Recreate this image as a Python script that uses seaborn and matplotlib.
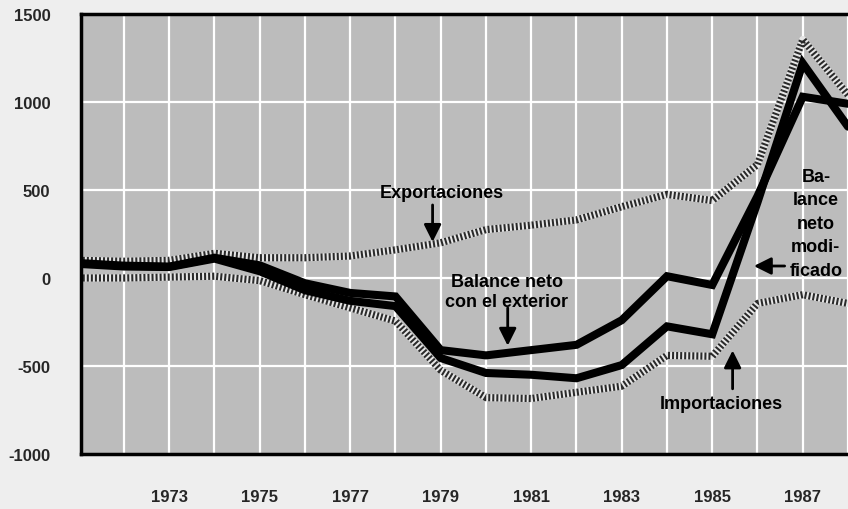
import numpy as np
import pandas as pd
import matplotlib
matplotlib.use("Agg")
import matplotlib.pyplot as plt
import seaborn as sns

# values (millions)
years = [1971, 1972, 1973, 1974, 1975, 1976, 1977, 1978, 1979,
         1980, 1981, 1982, 1983, 1984, 1985, 1986, 1987, 1988]
exportaciones = [100, 95, 100, 140, 115, 115, 125, 160, 200,
                 275, 300, 330, 405, 475, 440, 645, 1355, 1040]
importaciones = [0, 0, 5, 10, -15, -95, -170, -245, -525,
                 -680, -685, -650, -615, -440, -445, -145, -95, -145]
balance_exterior = [85, 70, 65, 115, 72, -30, -85, -105, -410,
                    -440, -410, -380, -240, 10, -40, 465, 1030, 990]
balance_modificado = [80, 65, 62, 110, 38, -70, -130, -160, -455,
                      -540, -550, -570, -495, -275, -320, 430, 1220, 860]

odd_years = [1973, 1975, 1977, 1979, 1981, 1983, 1985, 1987]
even_years = [1972, 1974, 1976, 1978, 1980, 1982, 1984, 1986]
y_ticks = [-1000, -500, 0, 500, 1000, 1500]

df = pd.DataFrame({
    "year": years,
    "exp": exportaciones,
    "imp": importaciones,
    "ext": balance_exterior,
    "mod": balance_modificado,
})

sns.set_style("white", {"axes.facecolor": "#bcbcbc"})
plt.rcParams["font.family"] = ["Liberation Sans", "DejaVu Sans"]

fig = plt.figure(figsize=(8.48, 5.10), dpi=100, facecolor="#eeeeee")
ax = fig.add_axes([0.0955, 0.108, 0.9045, 0.8625])
ax.set_facecolor("#bcbcbc")

# grid
for yr in years[1:]:
    ax.axvline(yr, color="white", lw=1.6, zorder=0)
for v in [-500, 0, 500, 1000]:
    ax.axhline(v, color="white", lw=1.6, zorder=0)

# halftone (dotted) lines
for col in ["exp", "imp"]:
    sns.lineplot(data=df, x="year", y=col, ax=ax, color="#e6e6e6", lw=5.2, zorder=2)
    sns.lineplot(data=df, x="year", y=col, ax=ax, color="#2a2a2a", lw=5.2,
                 linestyle=(0, (0.28, 0.28)), zorder=2)

# net balance lines
for col in ["mod", "ext"]:
    sns.lineplot(data=df, x="year", y=col, ax=ax, color="black", lw=5.8,
                 zorder=3, solid_joinstyle="miter")

ax.set_xlim(1971.05, 1988.0)
ax.set_ylim(-1000, 1500)
ax.set_xlabel("")
ax.set_ylabel("")

ax.set_yticks(y_ticks)
ax.set_yticklabels([str(v) for v in y_ticks], fontsize=12, fontweight="bold")
ax.set_xticks(odd_years)
ax.set_xticklabels([str(v) for v in odd_years], fontsize=12, fontweight="bold")
ax.set_xticks(even_years, minor=True)
ax.tick_params(axis="x", which="major", direction="out", length=20, width=2,
               pad=5, color="black")
ax.tick_params(axis="x", which="minor", direction="out", length=11, width=2,
               color="black")
ax.tick_params(axis="y", direction="out", length=5, width=2, pad=17, color="black")

for side in ["left", "bottom", "top"]:
    ax.spines[side].set_visible(True)
    ax.spines[side].set_color("black")
    ax.spines[side].set_linewidth(2.5)
ax.spines["right"].set_visible(False)

arrow = dict(arrowstyle="-|>", color="black", lw=2, mutation_scale=26, shrinkA=0, shrinkB=0)
txt = dict(fontsize=13, fontweight="bold", ha="center", va="center", color="black")

ax.text(1979.02, 485, "Exportaciones", **txt)
ax.annotate("", xy=(1978.82, 205), xytext=(1978.82, 415), arrowprops=arrow)

ax.text(1980.46, -77, "Balance neto\ncon el exterior", linespacing=1.25, **txt)
ax.annotate("", xy=(1980.48, -385), xytext=(1980.48, -170), arrowprops=arrow)

ax.text(1987.29, 312, "Ba-\nlance\nneto\nmodi-\nficado", linespacing=1.5, **txt)
ax.annotate("", xy=(1985.92, 68), xytext=(1986.6, 68), arrowprops=arrow)

ax.text(1985.21, -713, "Importaciones", **txt)
ax.annotate("", xy=(1985.45, -412), xytext=(1985.45, -630), arrowprops=arrow)

fig.savefig("out.png", dpi=100, facecolor=fig.get_facecolor())
